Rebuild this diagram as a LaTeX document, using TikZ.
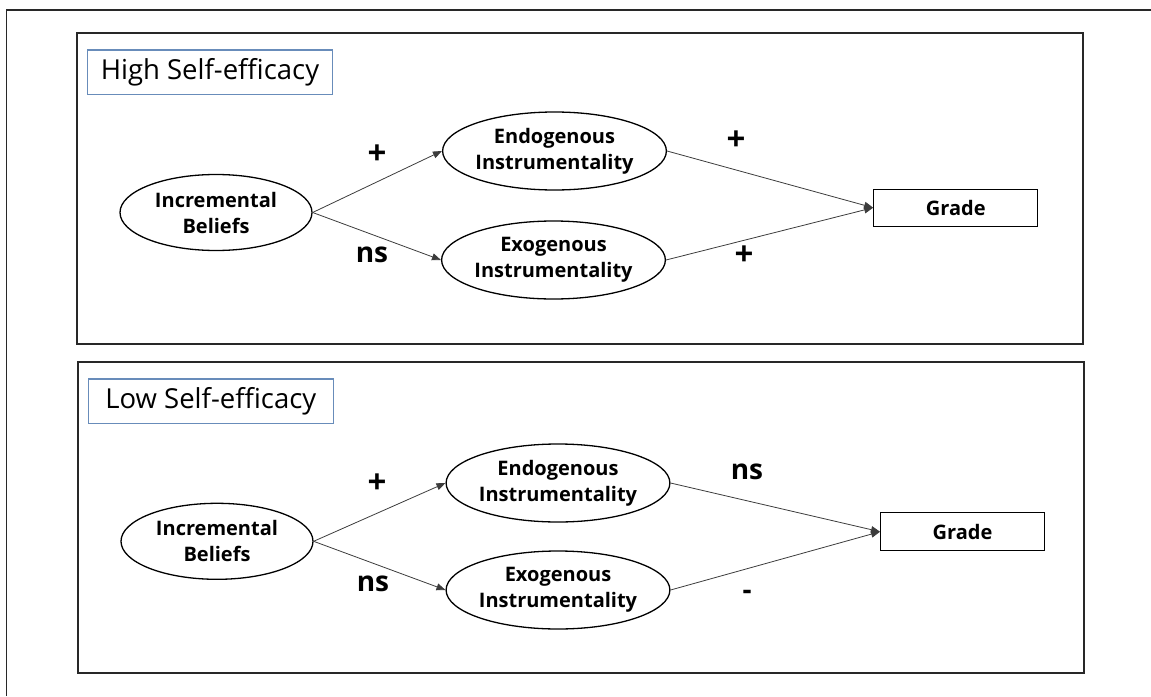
\documentclass[tikz,border=0pt]{standalone}
\usepackage{fontspec}
\setmainfont{Open Sans}
\usetikzlibrary{arrows.meta,shapes.geometric}
\definecolor{titleblue}{RGB}{104,140,186}
\definecolor{framegray}{RGB}{40,40,40}
\definecolor{arrowgray}{RGB}{60,60,60}
\tikzset{
  panelbox/.style={draw=framegray,line width=1.6pt},
  titlebox/.style={draw=titleblue,line width=1.3pt,inner sep=0pt,
    font=\fontsize{27.5}{32}\selectfont},
  latent/.style={ellipse,draw=black,line width=1.3pt,inner sep=0pt,align=center,
    font=\fontsize{20}{26}\selectfont\bfseries},
  gradebox/.style={rectangle,draw=black,line width=1.3pt,inner sep=0pt,
    font=\fontsize{20}{26}\selectfont\bfseries},
  pathlab/.style={inner sep=0pt,text height=0.54em,text depth=0pt,
    font=\fontsize{28}{32}\selectfont\bfseries},
  pluslab/.style={inner sep=0pt,text height=0.7em,text depth=0pt,
    font=\fontsize{33}{36}\selectfont\bfseries},
  conn/.style={draw=arrowgray,line width=0.8pt,
    -{Triangle[length=9pt,width=7pt]}}
}
\begin{document}
\begin{tikzpicture}[x=1pt,y=-1pt]
\useasboundingbox (0,0) rectangle (1151,696);
% outer frame (only top and left edges visible)
\coordinate (ofb) at (6.7,696);
\coordinate (oft) at (6.7,10);
\coordinate (ofr) at (1151,10);
\draw[framegray,line width=1.5pt] (ofb) -- (oft) -- (ofr);

% ---------- Panel 1 ----------
\node[panelbox,minimum width=1006pt,minimum height=311pt,inner sep=0pt] (p1) at (580,188.5) {};
\node[titlebox,minimum width=245pt,minimum height=44.5pt] (t1) at (210,72.2) {High Self-efficacy};
\node[latent,minimum width=192pt,minimum height=76pt] (inc1) at (216,212.5) {Incremental\\Beliefs};
\node[latent,minimum width=223pt,minimum height=78pt] (endo1) at (554.5,151) {Endogenous\\Instrumentality};
\node[latent,minimum width=223pt,minimum height=78pt] (exo1) at (553.5,260) {Exogenous\\Instrumentality};
\node[gradebox,minimum width=164pt,minimum height=37pt] (g1) at (955.8,207.7) {Grade};
\draw[conn] (inc1.east) -- (endo1.west);
\draw[conn] (inc1.east) -- (exo1.west);
\draw[conn] (endo1.east) -- (g1.west);
\draw[conn] (exo1.east) -- (g1.west);
\node[pluslab] (l1a) at (377,161) {+};
\node[pathlab] (l1b) at (372,260) {ns};
\node[pluslab] (l1c) at (736,147) {+};
\node[pluslab] (l1d) at (744,262) {+};

% ---------- Panel 2 ----------
\node[panelbox,minimum width=1006pt,minimum height=311.3pt,inner sep=0pt] (p2) at (581.2,517.4) {};
\node[titlebox,minimum width=245pt,minimum height=44.3pt] (t2) at (210.8,401.2) {Low Self-efficacy};
\node[latent,minimum width=192pt,minimum height=76pt] (inc2) at (217,541.3) {Incremental\\Beliefs};
\node[latent,minimum width=223pt,minimum height=78pt] (endo2) at (558,483) {Endogenous\\Instrumentality};
\node[latent,minimum width=223pt,minimum height=78pt] (exo2) at (558,590) {Exogenous\\Instrumentality};
\node[gradebox,minimum width=163.6pt,minimum height=38pt] (g2) at (962.5,531.7) {Grade};
\draw[conn] (inc2.east) -- (endo2.west);
\draw[conn] (inc2.east) -- (exo2.west);
\draw[conn] (endo2.east) -- (g2.west);
\draw[conn] (exo2.east) -- (g2.west);
\node[pluslab] (l2a) at (377,490) {+};
\node[pathlab] (l2b) at (373,589) {ns};
\node[pathlab] (l2c) at (747,477) {ns};
\node[pathlab] (l2d) at (747,597) {-};
\end{tikzpicture}
\end{document}
